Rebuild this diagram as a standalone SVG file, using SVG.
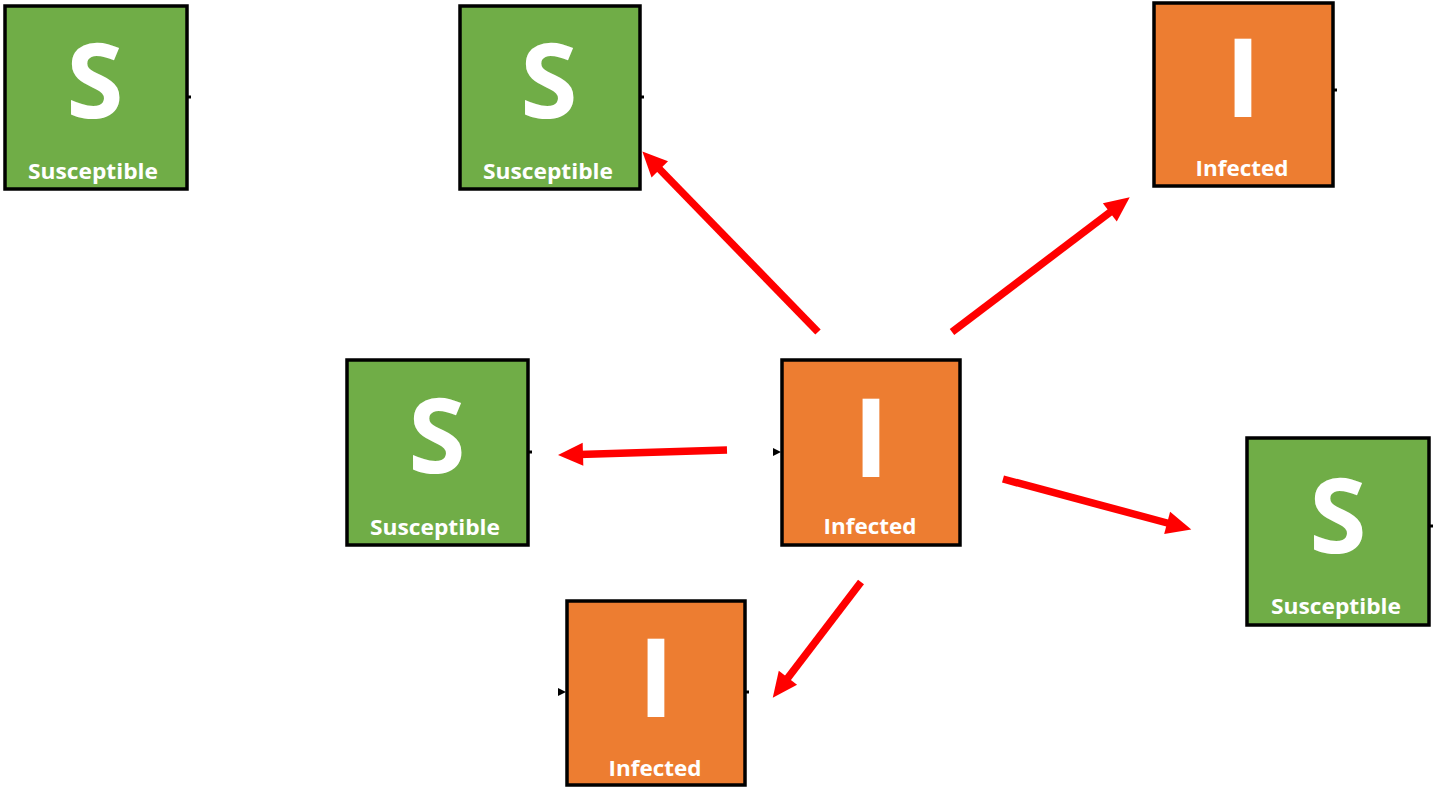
<svg xmlns="http://www.w3.org/2000/svg" width="1433" height="790" viewBox="0 0 1433 790">
<style>
.box{stroke:#000;stroke-width:3.5}
.s{fill:#70AD47}
.i{fill:#ED7D31}
.big{font-family:"Open Sans","Noto Sans",sans-serif;font-weight:bold;fill:#fff;text-anchor:middle}
.lbl{font-family:"Open Sans","Noto Sans",sans-serif;font-weight:bold;fill:#fff;text-anchor:middle;font-size:21px}
.stub{stroke:#000;stroke-width:3}
.arr{stroke:#FF0000;stroke-width:7.5;fill:none;marker-end:url(#ah)}
</style>
<defs>
<marker id="ah" markerUnits="userSpaceOnUse" markerWidth="26" markerHeight="24" refX="4" refY="11.5" orient="auto" overflow="visible">
<path d="M0,0 L25,11.5 L0,23 Z" fill="#FF0000"/>
</marker>
</defs>
<rect width="1433" height="790" fill="#fff"/>
<g id="n1">
<rect class="box s" x="5" y="6" width="182" height="183"/>
<line class="stub" x1="187" y1="97" x2="191" y2="97"/>
<text class="big" x="95" y="118" font-size="104">S</text>
<text class="lbl" x="93" y="179" textLength="130" lengthAdjust="spacingAndGlyphs">Susceptible</text>
</g>
<g id="n2">
<rect class="box s" x="460" y="6" width="180" height="183"/>
<line class="stub" x1="640" y1="97" x2="644" y2="97"/>
<text class="big" x="549" y="118" font-size="104">S</text>
<text class="lbl" x="548" y="179" textLength="130" lengthAdjust="spacingAndGlyphs">Susceptible</text>
</g>
<g id="n3">
<rect class="box i" x="1154" y="3" width="179" height="183"/>
<line class="stub" x1="1333" y1="90" x2="1337" y2="90"/>
<text class="big" x="1243" y="117" font-size="110">I</text>
<text class="lbl" x="1242" y="176" textLength="93" lengthAdjust="spacingAndGlyphs">Infected</text>
</g>
<g id="n4">
<rect class="box s" x="347" y="360" width="181" height="185"/>
<line class="stub" x1="528" y1="452" x2="532" y2="452"/>
<text class="big" x="437" y="473" font-size="104">S</text>
<text class="lbl" x="435" y="535" textLength="130" lengthAdjust="spacingAndGlyphs">Susceptible</text>
</g>
<g id="n5">
<rect class="box i" x="782" y="360" width="178" height="185"/>
<path d="M773,448 L781,452 L773,456 Z" fill="#000"/>
<text class="big" x="871" y="477" font-size="110">I</text>
<text class="lbl" x="870" y="534" textLength="93" lengthAdjust="spacingAndGlyphs">Infected</text>
</g>
<g id="n6">
<rect class="box s" x="1247" y="438" width="182" height="187"/>
<line class="stub" x1="1429" y1="526" x2="1433" y2="526"/>
<text class="big" x="1338" y="553" font-size="104">S</text>
<text class="lbl" x="1336" y="614" textLength="130" lengthAdjust="spacingAndGlyphs">Susceptible</text>
</g>
<g id="n7">
<rect class="box i" x="567" y="601" width="178" height="184"/>
<path d="M558,688 L566,692 L558,696 Z" fill="#000"/>
<line class="stub" x1="745" y1="692" x2="749" y2="692"/>
<text class="big" x="656" y="717" font-size="110">I</text>
<text class="lbl" x="655" y="776" textLength="93" lengthAdjust="spacingAndGlyphs">Infected</text>
</g>
<g id="connectors">
<line class="arr" x1="818" y1="332" x2="657" y2="166.5"/>
<line class="arr" x1="952" y1="332" x2="1113" y2="210"/>
<line class="arr" x1="727" y1="450" x2="579" y2="454.4"/>
<line class="arr" x1="1003" y1="479" x2="1171" y2="524"/>
<line class="arr" x1="861" y1="582" x2="785.5" y2="681"/>
</g>
</svg>
